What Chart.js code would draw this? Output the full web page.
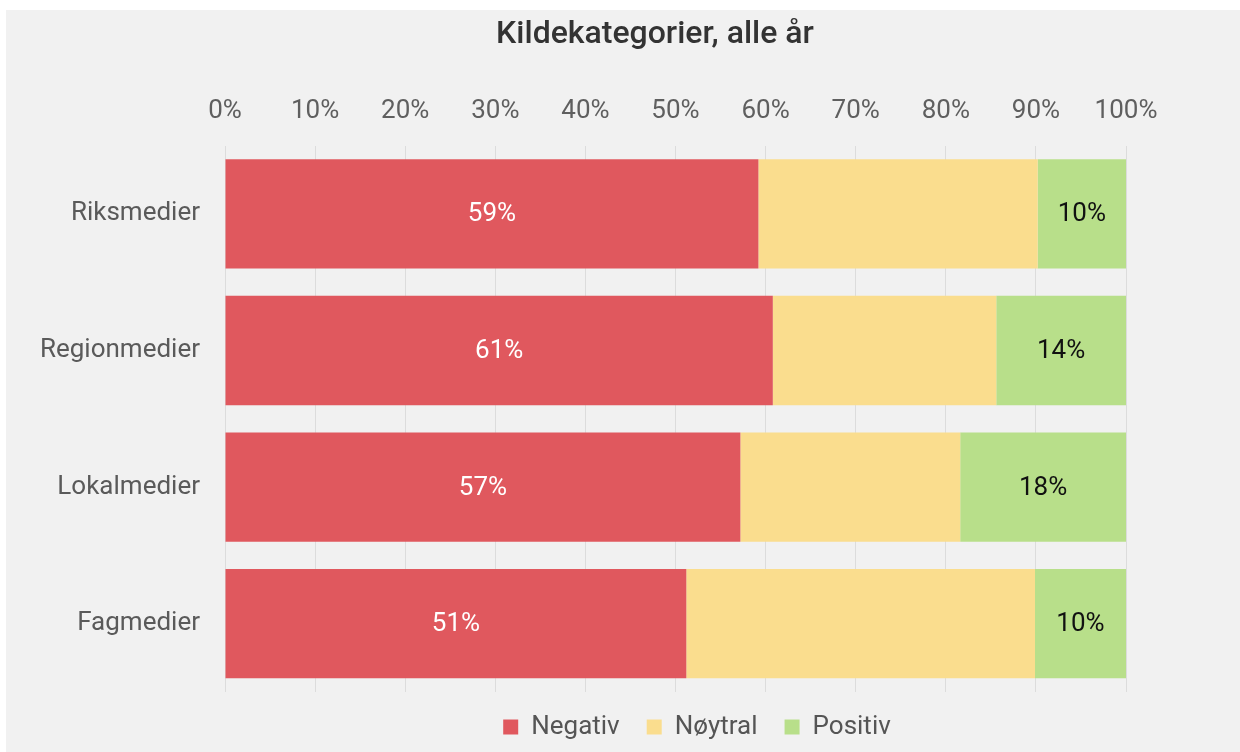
<!DOCTYPE html>
<html>
<head>
<meta charset="utf-8">
<script src="https://cdn.jsdelivr.net/npm/chart.js@4/dist/chart.umd.min.js"></script>
<style>
  html, body { margin: 0; padding: 0; background: #ffffff; overflow: hidden; }
  #wrap { position: absolute; left: 6px; top: 10px; width: 1234px; height: 745px; background: #f1f1f1; }
  canvas { display: block; }
</style>
</head>
<body>
<div id="wrap"><canvas id="c" width="1234" height="745"></canvas></div>
<script>
// ---- data ----
const categories = ['Riksmedier', 'Regionmedier', 'Lokalmedier', 'Fagmedier'];
const negativ = [59.2, 60.8, 57.2, 51.2];
const noytral = [31.0, 24.8, 24.4, 38.7];
const positiv = [9.8, 14.4, 18.4, 10.1];
const seriesNames = ['Negativ', 'Nøytral', 'Positiv'];
const xTicks = [0, 10, 20, 30, 40, 50, 60, 70, 80, 90, 100];
const titleText = 'Kildekategorier, alle år';

const FONT = 'Roboto, "Noto Sans", "DejaVu Sans", sans-serif';

const labelPlugin = {
  id: 'segLabels',
  afterDatasetsDraw(chart) {
    const ctx = chart.ctx;
    ctx.save();
    ctx.font = '26px ' + FONT;
    ctx.textAlign = 'center';
    ctx.textBaseline = 'middle';
    [0, 2].forEach(di => {
      const meta = chart.getDatasetMeta(di);
      const ds = chart.data.datasets[di];
      ctx.fillStyle = di === 0 ? '#ffffff' : '#111111';
      meta.data.forEach((el, i) => {
        const p = el.getCenterPoint();
        ctx.fillText(Math.round(ds.data[i]) + '%', p.x, p.y + 1);
      });
    });
    ctx.restore();
  }
};

// shift title and legend boxes horizontally to sit where the reference has them
const shiftPlugin = {
  id: 'shiftBoxes',
  afterLayout(chart) {
    const t = chart.titleBlock;
    if (t) { t.left += 89; t.right += 89; }
    const l = chart.legend;
    if (l) { l.left += 131; l.right += 131; l.top -= 5; l.bottom -= 5; }
  }
};

new Chart(document.getElementById('c'), {
  type: 'bar',
  data: {
    labels: categories,
    datasets: [
      { label: seriesNames[0], data: negativ, backgroundColor: '#e0585e' },
      { label: seriesNames[1], data: noytral, backgroundColor: '#fadd8e' },
      { label: seriesNames[2], data: positiv, backgroundColor: '#b8df8a' }
    ]
  },
  options: {
    indexAxis: 'y',
    responsive: false,
    animation: false,
    layout: { padding: { left: 0, right: 114, top: 0, bottom: 0 } },
    datasets: { bar: { barPercentage: 0.8, categoryPercentage: 1.0, borderWidth: 0 } },
    scales: {
      x: {
        position: 'top',
        stacked: true,
        min: 0,
        max: 100,
        afterBuildTicks(scale) { scale.ticks = xTicks.map(v => ({ value: v })); },
        border: { display: false },
        grid: { color: '#dcdcdc', lineWidth: 1, drawTicks: false },
        ticks: {
          padding: 19,
          color: '#5f5f5f',
          font: { family: FONT, size: 26 },
          callback: v => v + '%'
        }
      },
      y: {
        stacked: true,
        border: { display: false },
        grid: { display: false, drawTicks: false },
        afterFit(scale) { scale.width = 219; },
        ticks: {
          padding: 25,
          color: '#5a5a5a',
          font: { family: FONT, size: 26 }
        }
      }
    },
    plugins: {
      title: {
        display: true,
        text: titleText,
        color: '#333333',
        font: { family: FONT, size: 32, weight: '500' },
        padding: { top: 6, bottom: 22 }
      },
      legend: {
        position: 'bottom',
        labels: {
          boxWidth: 15,
          boxHeight: 15,
          padding: 27,
          color: '#555555',
          font: { family: FONT, size: 26 }
        }
      },
      tooltip: { enabled: false }
    }
  },
  plugins: [labelPlugin, shiftPlugin]
});
</script>
</body>
</html>
